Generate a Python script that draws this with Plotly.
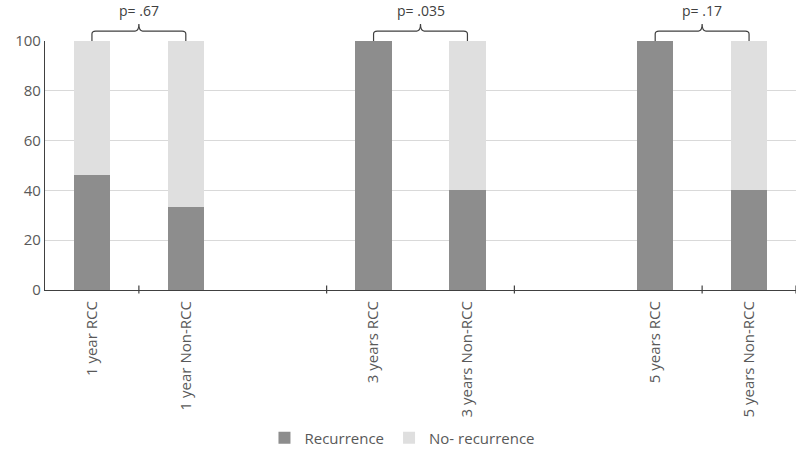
import plotly.graph_objects as go

# category slots on a numeric axis (gaps at 2 and 5)
positions = [0, 1, 3, 4, 6, 7]
labels = ["1 year RCC", "1 year Non-RCC", "3 years RCC", "3 years Non-RCC",
          "5 years RCC", "5 years Non-RCC"]
recurrence = [46, 33.3, 100, 40, 100, 40]
no_recurrence = [54, 66.7, 0, 60, 0, 60]

# p-value brackets: (left bar, right bar, text)
brackets = [(0, 1, "p= .67"), (3, 4, "p= .035"), (6, 7, "p= .17")]
axis_ticks = [0.5, 2.5, 4.5, 6.5, 7.5]

font = "Open Sans, Liberation Sans, sans-serif"
grey = "#595959"

fig = go.Figure()
fig.add_trace(go.Bar(x=positions, y=recurrence, name="Recurrence",
                     marker=dict(color="#8d8d8d", line_width=0), width=0.39))
fig.add_trace(go.Bar(x=positions, y=no_recurrence, name="No- recurrence",
                     marker=dict(color="#dfdfdf", line_width=0), width=0.39))

shapes = []
for a, b, txt in brackets:
    m = (a + b) / 2
    path = (f"M {a},1.0 L {a},1.028 Q {a},1.04 {a+0.04},1.04 "
            f"L {m-0.04},1.04 Q {m},1.04 {m},1.068 "
            f"Q {m},1.04 {m+0.04},1.04 L {b-0.04},1.04 "
            f"Q {b},1.04 {b},1.028 L {b},1.0")
    shapes.append(dict(type="path", path=path, xref="x", yref="paper",
                       line=dict(color="#404040", width=1.2)))
    fig.add_annotation(x=m, y=1.124, xref="x", yref="paper", text=txt,
                       xanchor="center", yanchor="middle", showarrow=False,
                       font=dict(size=14, color="#404040", family=font))

for t in axis_ticks:
    shapes.append(dict(type="line", x0=t, x1=t, y0=-0.014, y1=0.018,
                       xref="x", yref="paper", line=dict(color="#404040", width=1.2)))

fig.update_layout(
    barmode="stack",
    width=800, height=449,
    margin=dict(l=45, r=4, t=41, b=159, autoexpand=False),
    plot_bgcolor="white", paper_bgcolor="white",
    font=dict(family=font, color=grey),
    shapes=shapes,
    legend=dict(orientation="h", x=0.476, xanchor="center", y=-0.594, yanchor="middle",
                font=dict(size=15, color=grey), traceorder="normal",
                itemwidth=30),
    bargap=0,
)
fig.update_xaxes(range=[-0.5, 7.5], tickvals=positions, ticktext=labels, tickangle=-90,
                 tickfont=dict(size=15, color=grey), showline=True, automargin=False,
                 ticklabelstandoff=4,
                 linecolor="#404040", linewidth=1.2, showgrid=False, ticks="")
fig.update_yaxes(range=[0, 100], dtick=20, tickfont=dict(size=15, color=grey),
                 showline=True, linecolor="#404040", linewidth=1.2, automargin=False,
                 gridcolor="#d9d9d9", gridwidth=1, zeroline=False, ticks="")

# drop the page's default body margin so the figure fills the window
fig.write_html("out.html", config={"displayModeBar": False},
               post_script="document.body.style.margin='0';")
